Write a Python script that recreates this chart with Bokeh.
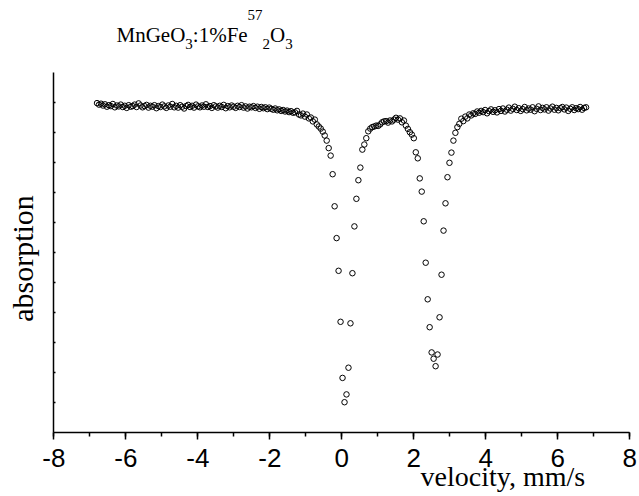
import math
from bokeh.plotting import figure
from bokeh.models import Range1d, SingleIntervalTicker, FixedTicker, Label, CustomJSTickFormatter
from bokeh.embed import file_html
from bokeh.resources import INLINE

# Doppler velocity of each channel, mm/s
velocity = [
    -6.800, -6.745, -6.690, -6.635, -6.580, -6.525, -6.470, -6.415, -6.360, -6.305,
    -6.250, -6.195, -6.140, -6.085, -6.030, -5.975, -5.920, -5.865, -5.810, -5.755,
    -5.700, -5.645, -5.590, -5.535, -5.480, -5.425, -5.370, -5.315, -5.260, -5.205,
    -5.150, -5.095, -5.040, -4.985, -4.930, -4.875, -4.820, -4.765, -4.710, -4.655,
    -4.600, -4.545, -4.490, -4.435, -4.380, -4.325, -4.270, -4.215, -4.160, -4.105,
    -4.050, -3.995, -3.940, -3.885, -3.830, -3.775, -3.720, -3.665, -3.610, -3.555,
    -3.500, -3.445, -3.390, -3.335, -3.280, -3.225, -3.170, -3.115, -3.060, -3.005,
    -2.950, -2.895, -2.840, -2.785, -2.730, -2.675, -2.620, -2.565, -2.510, -2.455,
    -2.400, -2.345, -2.290, -2.235, -2.180, -2.125, -2.070, -2.015, -1.960, -1.905,
    -1.850, -1.795, -1.740, -1.685, -1.630, -1.575, -1.520, -1.465, -1.410, -1.355,
    -1.300, -1.245, -1.190, -1.135, -1.080, -1.025, -0.970, -0.915, -0.860, -0.805,
    -0.750, -0.695, -0.640, -0.585, -0.530, -0.475, -0.420, -0.365, -0.310, -0.255,
    -0.200, -0.145, -0.090, -0.035, 0.020, 0.075, 0.130, 0.185, 0.240, 0.295,
    0.350, 0.405, 0.460, 0.515, 0.570, 0.625, 0.680, 0.735, 0.790, 0.845,
    0.900, 0.955, 1.010, 1.065, 1.120, 1.175, 1.230, 1.285, 1.340, 1.395,
    1.450, 1.505, 1.560, 1.615, 1.670, 1.725, 1.780, 1.835, 1.890, 1.945,
    2.000, 2.055, 2.110, 2.165, 2.220, 2.275, 2.330, 2.385, 2.440, 2.495,
    2.550, 2.605, 2.660, 2.715, 2.770, 2.825, 2.880, 2.935, 2.990, 3.045,
    3.100, 3.155, 3.210, 3.265, 3.320, 3.375, 3.430, 3.485, 3.540, 3.595,
    3.650, 3.705, 3.760, 3.815, 3.870, 3.925, 3.980, 4.035, 4.090, 4.145,
    4.200, 4.255, 4.310, 4.365, 4.420, 4.475, 4.530, 4.585, 4.640, 4.695,
    4.750, 4.805, 4.860, 4.915, 4.970, 5.025, 5.080, 5.135, 5.190, 5.245,
    5.300, 5.355, 5.410, 5.465, 5.520, 5.575, 5.630, 5.685, 5.740, 5.795,
    5.850, 5.905, 5.960, 6.015, 6.070, 6.125, 6.180, 6.235, 6.290, 6.345,
    6.400, 6.455, 6.510, 6.565, 6.620, 6.675, 6.730, 6.785,
]

# relative transmission (arbitrary units, axis is unlabeled)
absorption = [
    10.98, 10.93, 10.96, 10.90, 10.94, 10.86, 10.91, 10.88, 10.95, 10.84,
    10.90, 10.87, 10.93, 10.85, 10.89, 10.82, 10.91, 10.86, 10.88, 10.93,
    10.85, 10.97, 10.90, 10.84, 10.88, 10.92, 10.83, 10.89, 10.86, 10.91,
    10.81, 10.88, 10.85, 10.93, 10.87, 10.82, 10.90, 10.86, 10.95, 10.84,
    10.89, 10.83, 10.91, 10.86, 10.80, 10.88, 10.92, 10.85, 10.89, 10.83,
    10.93, 10.87, 10.84, 10.90, 10.86, 10.94, 10.85, 10.88, 10.82, 10.91,
    10.87, 10.83, 10.89, 10.85, 10.92, 10.81, 10.88, 10.84, 10.90, 10.86,
    10.82, 10.89, 10.85, 10.91, 10.83, 10.87, 10.80, 10.86, 10.84, 10.88,
    10.82, 10.86, 10.79, 10.85, 10.81, 10.84, 10.78, 10.83, 10.79, 10.76,
    10.80, 10.74, 10.77, 10.72, 10.75, 10.70, 10.73, 10.68, 10.71, 10.66,
    10.67, 10.72, 10.60, 10.57, 10.63, 10.53, 10.60, 10.47, 10.50, 10.37,
    10.43, 10.27, 10.20, 10.13, 10.03, 9.90, 9.73, 9.48, 9.23, 8.61,
    7.54, 6.48, 5.39, 3.69, 1.82, 1.01, 1.27, 2.16, 3.64, 5.31,
    6.87, 7.79, 8.41, 8.83, 9.43, 9.60, 9.81, 10.04, 10.13, 10.18,
    10.20, 10.23, 10.22, 10.27, 10.34, 10.37, 10.38, 10.33, 10.40, 10.37,
    10.43, 10.49, 10.43, 10.47, 10.34, 10.40, 10.23, 10.12, 10.01, 9.93,
    9.81, 9.34, 9.14, 8.47, 8.03, 7.04, 5.66, 4.44, 3.51, 2.67,
    2.46, 2.21, 2.60, 3.84, 5.26, 6.73, 7.64, 8.51, 8.99, 9.33,
    9.73, 9.99, 10.18, 10.29, 10.46, 10.38, 10.53, 10.47, 10.60, 10.57,
    10.64, 10.62, 10.70, 10.66, 10.72, 10.68, 10.75, 10.64, 10.71, 10.77,
    10.69, 10.74, 10.67, 10.78, 10.72, 10.80, 10.70, 10.76, 10.83, 10.73,
    10.79, 10.86, 10.75, 10.81, 10.72, 10.78, 10.85, 10.74, 10.80, 10.76,
    10.84, 10.71, 10.79, 10.87, 10.75, 10.82, 10.77, 10.84, 10.73, 10.80,
    10.86, 10.76, 10.82, 10.74, 10.81, 10.85, 10.77, 10.83, 10.72, 10.79,
    10.84, 10.75, 10.81, 10.78, 10.85, 10.76, 10.82, 10.84,
]

x_label = "velocity, mm/s"
y_label = "absorption"
x_axis_span = (-8, 8)
y_axis_span = (0, 12)
y_ticks = [1, 2, 3, 4, 5, 6, 7, 8, 9, 10, 11]

# frame fills the whole canvas; axes are pinned at the data origin corner
p = figure(width=639, height=496, output_backend="svg", toolbar_location=None,
           x_range=Range1d(-9.481, 8.269), y_range=Range1d(-2.133, 14.4),
           min_border_left=0, min_border_right=0, min_border_top=0,
           min_border_bottom=0)
p.outline_line_color = None
p.grid.visible = False
p.background_fill_color = "white"
p.border_fill_color = "white"

p.scatter(velocity, absorption, marker="circle", size=5.5,
          fill_color=None, line_color="black", line_width=1)

xa = p.xaxis[0]
xa.fixed_location = 0
xa.bounds = x_axis_span
xa.ticker = SingleIntervalTicker(interval=2, num_minor_ticks=2)
xa.formatter = CustomJSTickFormatter(code="return tick.toFixed(0)")
xa.axis_line_width = 1.5
xa.major_tick_line_width = 1.5
xa.minor_tick_line_width = 1.5
xa.major_tick_out = 7
xa.major_tick_in = 0
xa.minor_tick_out = 4
xa.minor_tick_in = 0
xa.major_label_text_font = "Liberation Sans"
xa.major_label_text_font_size = "26px"
xa.major_label_text_color = "black"
xa.major_label_standoff = 9

ya = p.yaxis[0]
ya.fixed_location = -8
ya.bounds = y_axis_span
ya.ticker = FixedTicker(ticks=y_ticks)
ya.axis_line_width = 1.5
ya.major_tick_line_width = 1.5
ya.major_tick_in = 2
ya.major_tick_out = 0
ya.minor_tick_line_color = None
ya.major_label_text_color = None

p.add_layout(Label(x=2.186, y=-1.48, text=x_label, text_font="Liberation Serif",
                   text_font_size="28px", text_color="black",
                   text_baseline="alphabetic", text_align="left"))
p.add_layout(Label(x=-8.869, y=5.8, text=y_label, text_font="Liberation Serif",
                   text_font_size="30px", text_color="black", angle=math.pi / 2,
                   text_baseline="middle", text_align="center"))

# title pieces: (text, x in mm/s, y in data units, font size)
title_parts = [
    ("MnGeO", -6.258, 13.25, "21px"),
    ("3", -4.347, 12.95, "15px"),
    (":1%Fe", -4.139, 13.25, "21px"),
    ("57", -2.617, 13.93, "15px"),
    ("2", -2.200, 12.95, "15px"),
    ("O", -1.992, 13.25, "21px"),
    ("3", -1.569, 12.95, "15px"),
]
for txt, tx, ty, fs in title_parts:
    p.add_layout(Label(x=tx, y=ty, text=txt, text_font="Liberation Serif",
                       text_font_size=fs, text_color="black",
                       text_baseline="alphabetic", text_align="left"))

open("out.html", "w").write(file_html(p, INLINE))
